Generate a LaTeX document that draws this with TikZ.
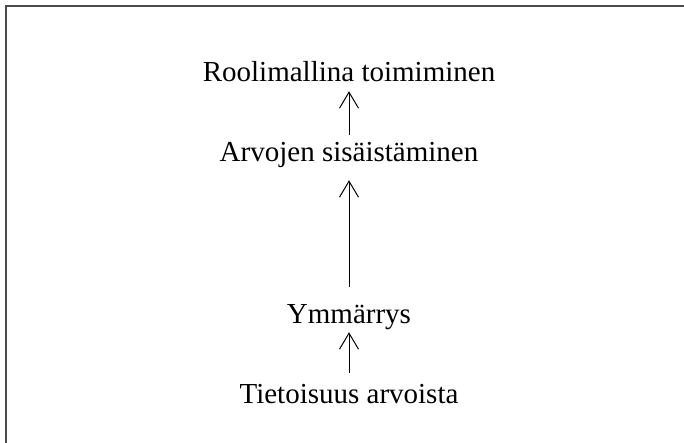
\documentclass[tikz,border=0pt]{standalone}
\usepackage{fontspec}
\setmainfont{Liberation Serif}
\usetikzlibrary{arrows.meta}
\begin{document}
\begin{tikzpicture}[x=1pt,y=1pt,
  lbl/.style={anchor=base,inner sep=0pt,text height=20pt,text depth=0pt,font=\fontsize{29}{35}\selectfont},
  arr/.style={draw=black,line width=1pt,-{Straight Barb[length=16pt,width=19pt,line width=1pt]}},
  frameline/.style={draw=black!70,line width=2pt}]
\useasboundingbox (0,0) rectangle (684,442);
\draw[frameline] (6,-2) -- (6,436) -- (686,436);
\node[lbl] (a) at (349,360) {Roolimallina toimiminen};
\node[lbl] (b) at (349,280) {Arvojen sisäistäminen};
\node[lbl] (c) at (349,119) {Ymmärrys};
\node[lbl] (d) at (349,39) {Tietoisuus arvoista};
\draw[arr,shorten <=7pt,shorten >=9pt] (b.north) -- (a.south);
\draw[arr,shorten <=16pt,shorten >=18pt] (c.north) -- (b.south);
\draw[arr,shorten <=10pt,shorten >=9pt] (d.north) -- (c.south);
\end{tikzpicture}
\end{document}
